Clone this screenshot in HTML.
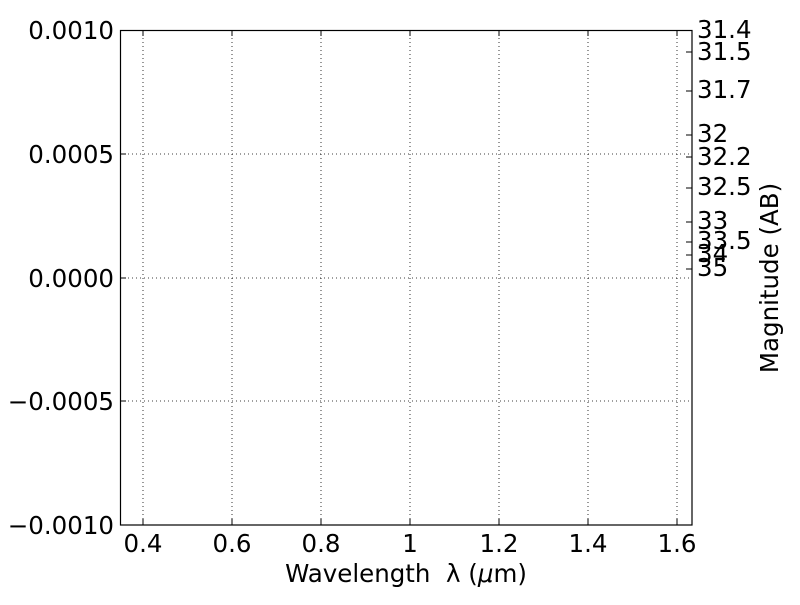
<!DOCTYPE html>
<html><head><meta charset="utf-8"><style>body{margin:0;background:#fff}</style></head><body>
<svg width="800" height="600" xmlns="http://www.w3.org/2000/svg" font-family="DejaVu Sans, Liberation Sans, sans-serif" font-size="24.5" fill="#000">
<rect width="800" height="600" fill="#fff"/>
<g stroke="#000" stroke-width="0.8" stroke-dasharray="1,3">
<line x1="143" y1="30" x2="143" y2="525"/><line x1="232" y1="30" x2="232" y2="525"/><line x1="321" y1="30" x2="321" y2="525"/><line x1="410" y1="30" x2="410" y2="525"/><line x1="499" y1="30" x2="499" y2="525"/><line x1="588" y1="30" x2="588" y2="525"/><line x1="677" y1="30" x2="677" y2="525"/>
<line x1="120" y1="154" x2="692" y2="154"/><line x1="120" y1="278" x2="692" y2="278"/><line x1="120" y1="401" x2="692" y2="401"/>
</g>
<g stroke="#000" stroke-width="1">
<path d="M143 525v-6M232 525v-6M321 525v-6M410 525v-6M499 525v-6M588 525v-6M677 525v-6M143 30v6M232 30v6M321 30v6M410 30v6M499 30v6M588 30v6M677 30v6"/>
<path d="M120 154h6M120 278h6M120 401h6"/>
<path d="M692 52h-6M692 91h-6M692 135h-6M692 157h-6M692 188h-6M692 222h-6M692 242h-6M692 255h-6M692 269h-6"/>
</g>
<rect x="120.5" y="30.5" width="571.5" height="494.5" fill="none" stroke="#000" stroke-width="1.2"/>
<g text-anchor="end">
<text x="114" y="39">0.0010</text><text x="114" y="163">0.0005</text><text x="114" y="287">0.0000</text><text x="114" y="410">−0.0005</text><text x="114" y="534">−0.0010</text>
</g>
<g text-anchor="middle">
<text x="143" y="552">0.4</text><text x="232" y="552">0.6</text><text x="321" y="552">0.8</text><text x="410" y="552">1</text><text x="499" y="552">1.2</text><text x="588" y="552">1.4</text><text x="677" y="552">1.6</text>
<text x="406" y="582" xml:space="preserve">Wavelength  λ (<tspan font-style="italic">μ</tspan>m)</text>
</g>
<g>
<text x="697" y="38">31.4</text><text x="697" y="60">31.5</text><text x="697" y="98">31.7</text><text x="697" y="142">32</text><text x="697" y="165">32.2</text><text x="697" y="195">32.5</text><text x="697" y="229">33</text><text x="697" y="249">33.5</text><text x="697" y="262">34</text><text x="697" y="276">35</text>
</g>
<text transform="translate(778,278) rotate(-90)" text-anchor="middle">Magnitude (AB)</text>
</svg>
</body></html>
